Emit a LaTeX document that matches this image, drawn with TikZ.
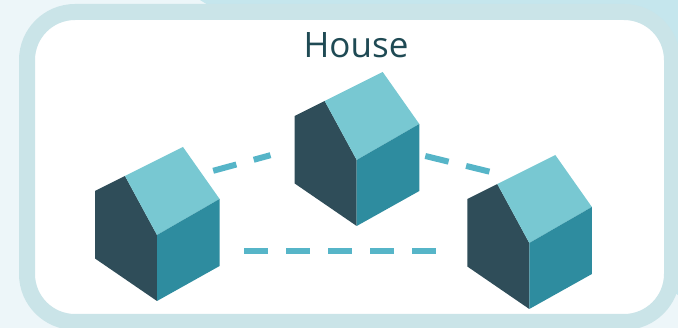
\documentclass[tikz,border=0pt]{standalone}
\usepackage{fontspec}
\setmainfont{Open Sans}
\usepackage{tikz}
\usetikzlibrary{calc}
\definecolor{pagepale}{HTML}{EDF6F9}
\definecolor{pagedeep}{HTML}{C5E6ED}
\definecolor{framecol}{HTML}{CAE4E8}
\definecolor{wallcol}{HTML}{2F4D59}
\definecolor{roofcol}{HTML}{78C8D2}
\definecolor{sidecol}{HTML}{2E8C9F}
\definecolor{linkcol}{HTML}{56B5C8}
\definecolor{titlecol}{HTML}{1F4A54}

\begin{document}
\begin{tikzpicture}[
  x=1pt, y=-1pt,
  framebox/.style={rectangle, draw=framecol, fill=white, line width=16pt, minimum width=645pt, minimum height=310pt, rounded corners=48pt},
  housebox/.style={rectangle, inner sep=0pt, minimum width=124pt, minimum height=154pt},
  wall/.style={fill=wallcol},
  roof/.style={fill=roofcol},
  side/.style={fill=sidecol},
  link/.style={draw=linkcol, line width=6pt, dash pattern=on 24pt off 18pt},
  title/.style={text=titlecol, anchor=base, font=\fontsize{35}{35}\selectfont}
]
\useasboundingbox (0,0) rectangle (678,328);
\fill[pagepale] (0,0) rectangle (678,328);
\fill[pagedeep] (200,0) -- (678,0) -- (678,295) -- cycle;
\node[framebox] (frame) at (349.5,167) {};
\node[title] (name) at (356,58) {House};
% the three houses
\foreach \h/\x/\y in {houseL/157/224, houseC/356.7/149, houseR/529.3/232} {
  \node[housebox] (\h) at (\x,\y) {};
  \begin{scope}[shift={(\h)}]
    \fill[wall] (-62,-33) -- (-32,-48) -- (0,11) -- (0,77) -- (-62,34.5) -- cycle;
    \fill[roof] (-32,-48) -- (26,-77) -- (62.6,-25) -- (0,11) -- cycle;
    \fill[side] (0,11) -- (62.6,-25) -- (62.6,42) -- (0,77) -- cycle;
  \end{scope}
}
% dashed links
\draw[link] ($(houseL)+(56.2,-53.2)$) -- ($(houseC)+(-86.2,6.2)$);
\draw[link] ($(houseC)+(68.6,7)$) -- ($(houseR)+(-39.6,-60.3)$);
\draw[link] ($(houseL)+(87,27)$) -- ($(houseR)+(-93.3,19)$);
\end{tikzpicture}
\end{document}
